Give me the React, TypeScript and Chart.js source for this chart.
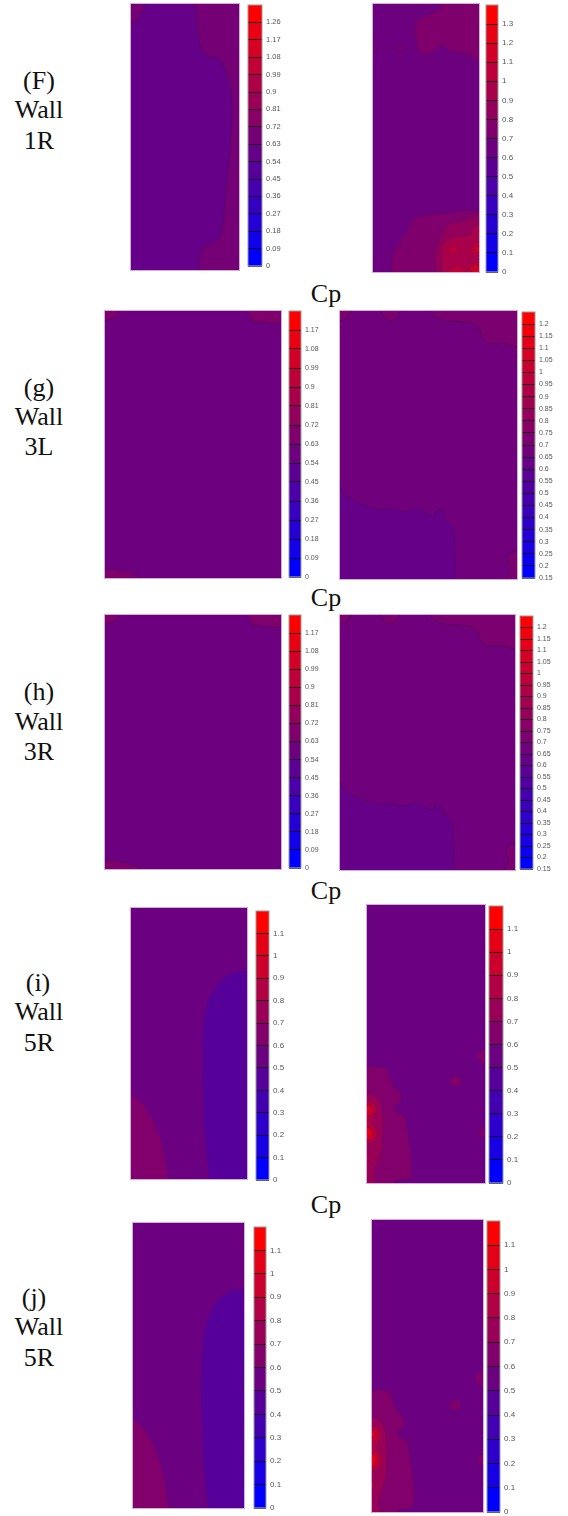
import React, { useEffect, useRef } from "react";
import { Chart, registerables } from "chart.js";

Chart.register(...registerables);

type Pt = [number, number];

// Colour-bar tick values
const TICKS_F_LEFT = [0, 0.09, 0.18, 0.27, 0.36, 0.45, 0.54, 0.63, 0.72, 0.81, 0.9, 0.99, 1.08, 1.17, 1.26];
const TICKS_F_RIGHT = [0, 0.1, 0.2, 0.3, 0.4, 0.5, 0.6, 0.7, 0.8, 0.9, 1, 1.1, 1.2, 1.3];
const TICKS_GH_LEFT = [0, 0.09, 0.18, 0.27, 0.36, 0.45, 0.54, 0.63, 0.72, 0.81, 0.9, 0.99, 1.08, 1.17];
const TICKS_GH_RIGHT = [0.15, 0.2, 0.25, 0.3, 0.35, 0.4, 0.45, 0.5, 0.55, 0.6, 0.65, 0.7, 0.75, 0.8, 0.85, 0.9, 0.95, 1, 1.05, 1.1, 1.15, 1.2];
const TICKS_IJ = [0, 0.1, 0.2, 0.3, 0.4, 0.5, 0.6, 0.7, 0.8, 0.9, 1, 1.1];

// Contour outlines, in percent of the wall width / height (y from the top)
const FULL: Pt[] = [[0, 0], [100, 0], [100, 100], [0, 100], [0, 0]];

const FL_CORNER: Pt[] = [[-3, 8], [0, 7.3], [5.5, 6.3], [10, 3.5], [13, 0], [14, -3], [-5, -5]];
const FL_RIGHT: Pt[] = [[59.4, -3], [59.6, 0], [61.7, 8.5], [64.2, 16], [70.4, 19.5], [81.2, 20.4], [87.3, 24.8], [92.6, 33.6], [93.5, 41.1], [91.4, 54.9], [87.3, 73.7], [83.3, 86.2], [76.5, 89.7], [67.3, 91.2], [63.6, 95], [63, 100], [63, 105], [110, 110], [110, -5]];

const FR_TOP: Pt[] = [[64, -2], [63.8, 1.6], [54.4, 3.7], [41.8, 6], [39.3, 9.1], [41.2, 14.7], [43.4, 17.8], [51.3, 19], [59.1, 17.2], [65.4, 15.1], [71.7, 17.2], [79.6, 18.1], [87.4, 18.4], [95.3, 20.3], [103, 21], [110, -5]];
const FR_BLOB_A: Pt[] = [[21.4, 16.6], [25.2, 15.6], [29, 16.6], [25.2, 17.6], [21.4, 16.6]];
const FR_BLOB_B: Pt[] = [[-3, 15.6], [1.5, 15.7], [4, 16.6], [1.5, 17.5], [-3, 17.6]];
const FR_LOW_7: Pt[] = [[17, 105], [17.3, 100], [19.2, 93.2], [24.5, 89.4], [30.8, 85.7], [38.7, 80.1], [51.3, 78.8], [63.8, 78.2], [76.4, 77.6], [87.4, 77], [103, 78.5], [110, 110]];
const FR_LOW_8: Pt[] = [[59, 105], [59.1, 100], [58.5, 94.3], [61.6, 89.2], [66.3, 85.4], [72.6, 81.7], [84.9, 81.2], [103, 79], [110, 110]];
const FR_LOW_9: Pt[] = [[65, 105], [64.8, 100], [64.8, 94.3], [66.3, 89.3], [75.8, 87], [91.5, 86.2], [94.6, 83.7], [103, 81.5], [110, 110]];
const FR_LOW_10: Pt[] = [[67, 103], [72, 99], [80, 97.8], [88, 99.5], [93, 98], [97, 96.7], [103, 96.5], [110, 110]];
const FR_EYE_A: Pt[] = [[70.5, 91.8], [75.8, 90.3], [81.1, 91.8], [75.8, 93.3], [70.5, 91.8]];
const FR_EYE_B: Pt[] = [[91.4, 91.5], [98.4, 89], [105, 91.5], [98.4, 94], [91.4, 91.5]];
const FR_EYE_C: Pt[] = [[95.4, 91.5], [98.4, 90.3], [102, 91.5], [98.4, 92.7], [95.4, 91.5]];
const FR_EYE_D: Pt[] = [[91.7, 98.6], [96.2, 97.1], [103, 98.6], [96.2, 102], [91.7, 98.6]];

const GL_TOP_LEFT: Pt[] = [[-2, 4], [0, 3.6], [4.7, 2.7], [7.6, 1.1], [7, -2], [-5, -5]];
const GL_TOP_RIGHT: Pt[] = [[79, -2], [79.7, 0], [82.5, 1.5], [82.9, 3.6], [86.3, 4.1], [103, 4.1], [110, -5]];
const GL_BOTTOM: Pt[] = [[-3, 96.5], [0, 96.5], [8.5, 97.1], [16.1, 98.6], [21, 100.2], [22, 105], [-5, 110]];

const GR_TOP_A: Pt[] = [[-3, 4], [0, 3.6], [3.8, 2.7], [6.2, 0], [7, -3], [-5, -5]];
const GR_TOP_B: Pt[] = [[22.5, -2], [23, 0], [24.5, 2.1], [28.3, 3.6], [32, 2.7], [34, 0], [34.5, -2]];
const GR_TOP_C: Pt[] = [[51.5, -2], [51.9, 0], [53.8, 2.1], [58.5, 3.4], [67.9, 4], [76.4, 4.9], [78.9, 7.1], [80.2, 10.2], [84.9, 12.1], [92.5, 12.1], [103, 12.9], [110, -5]];
const GR_LOW_LEFT: Pt[] = [[-3, 64], [0, 65.6], [2.8, 68.7], [9.4, 71.2], [20.8, 74.1], [28.3, 73.7], [36.8, 75], [43.4, 73.7], [50.9, 76.2], [53.8, 76.2], [54.3, 74.6], [57, 74.3], [58.9, 76.2], [57.5, 77.5], [61.3, 78.7], [64.2, 82.4], [64.7, 88], [65.1, 100], [65.2, 105], [-5, 110]];
const GR_LOW_RIGHT: Pt[] = [[103, 89], [100, 89.3], [96.2, 90.5], [94.7, 93.6], [96.6, 96.1], [94, 100], [93.5, 105], [110, 110]];

const IL_RIGHT: Pt[] = [[103, 23], [100, 23.1], [88, 24], [76.5, 27.1], [67.9, 33.2], [62.8, 41.8], [61.6, 54.1], [62.2, 68.9], [63.6, 83.6], [67.3, 100], [68, 105], [110, 110]];
const IL_LEFT: Pt[] = [[-3, 68], [0, 68.9], [10.6, 72.6], [19.2, 78.7], [26.4, 87.3], [32.1, 100], [33, 105], [-5, 110]];

const IR_6: Pt[] = [[-3, 58.2], [0, 58.2], [11.3, 58.2], [16.9, 59.4], [19.8, 62.9], [24, 65.9], [29.1, 68.3], [28.2, 70.8], [22.6, 73.1], [26.8, 74.7], [31.9, 76.1], [34.7, 82.1], [37.6, 91.7], [36.7, 98.3], [26.8, 98.9], [22.6, 100], [22, 105], [-5, 110]];
const IR_7: Pt[] = [[-3, 67.7], [0, 67.7], [5.7, 68.3], [11.3, 71.3], [13.3, 77.3], [12.7, 86.9], [8.5, 92.9], [5.7, 96.4], [7.6, 100], [8, 105], [-5, 110]];
const IR_8: Pt[] = [[-3, 70.5], [0, 70.5], [4.2, 70.8], [8.5, 73.1], [5.7, 76.1], [3.6, 77.3], [7, 80.3], [9.3, 82.1], [5.7, 85.1], [0, 86], [-3, 86]];
const IR_9_UP: Pt[] = [[-3, 71.5], [3, 72], [5, 73.8], [3, 75.5], [-3, 76]];
const IR_9_LOW: Pt[] = [[-3, 79.5], [3, 80.3], [6, 82.2], [3, 84.2], [-3, 84.8]];
const IR_10_UP: Pt[] = [[-3, 72], [1.5, 72.4], [2.5, 73.4], [1.5, 74.4], [-3, 74.8]];
const IR_10_LOW: Pt[] = [[-3, 80], [2, 80.4], [4, 82], [2, 83.6], [-3, 84]];
const IR_8_SMALL: Pt[] = [[-3, 89.6], [1, 89.7], [2.5, 90.8], [1, 92], [-3, 92.2]];
const IR_ISLE_A: Pt[] = [[69.3, 63.4], [74.7, 61.4], [80.1, 63.4], [74.7, 65.4], [69.3, 63.4]];
const IR_ISLE_B: Pt[] = [[103, 51.6], [99, 51.8], [92.6, 54.4], [99, 57], [103, 57.2]];
const IR_ISLE_C: Pt[] = [[103, 80.2], [98.5, 80.3], [94.5, 81.9], [98.5, 83.5], [103, 83.6]];

type Zone = { shape: Pt[]; band: number };
type Plot = { box: number[]; bands: number; base: number; zones: Zone[]; line: number };
type Bar = { box: number[]; ticks: number[]; top: number; font: number };

const zFL: Zone[] = [{ shape: FL_CORNER, band: 7 }, { shape: FL_RIGHT, band: 7 }];
const zFR: Zone[] = [
  { shape: FR_TOP, band: 7 }, { shape: FR_BLOB_A, band: 7 }, { shape: FR_BLOB_B, band: 7 },
  { shape: FR_LOW_7, band: 7 }, { shape: FR_LOW_8, band: 8 }, { shape: FR_LOW_9, band: 9 },
  { shape: FR_LOW_10, band: 10 }, { shape: FR_EYE_A, band: 10 }, { shape: FR_EYE_B, band: 10 },
  { shape: FR_EYE_C, band: 11 }, { shape: FR_EYE_D, band: 11 },
];
const zGL: Zone[] = [{ shape: GL_TOP_LEFT, band: 7 }, { shape: GL_TOP_RIGHT, band: 7 }, { shape: GL_BOTTOM, band: 7 }];
const zGR: Zone[] = [
  { shape: GR_TOP_A, band: 11 }, { shape: GR_TOP_B, band: 11 }, { shape: GR_TOP_C, band: 11 },
  { shape: GR_LOW_LEFT, band: 9 }, { shape: GR_LOW_RIGHT, band: 11 },
];
const zIL: Zone[] = [{ shape: IL_RIGHT, band: 4 }, { shape: IL_LEFT, band: 6 }];
const zIR: Zone[] = [
  { shape: IR_6, band: 6 }, { shape: IR_7, band: 7 }, { shape: IR_8, band: 8 },
  { shape: IR_9_UP, band: 9 }, { shape: IR_9_LOW, band: 9 }, { shape: IR_10_UP, band: 10 },
  { shape: IR_10_LOW, band: 10 }, { shape: IR_8_SMALL, band: 8 },
  { shape: IR_ISLE_A, band: 6 }, { shape: IR_ISLE_B, band: 6 }, { shape: IR_ISLE_C, band: 6 },
];

const PLOTS: Plot[] = [
  { box: [131, 4, 108, 266], bands: 15, base: 6, zones: zFL, line: 0.45 },
  { box: [373, 4, 106, 268], bands: 14, base: 6, zones: zFR, line: 0.28 },
  { box: [105, 311, 176, 267], bands: 14, base: 6, zones: zGL, line: 0.45 },
  { box: [340, 311, 177, 268], bands: 22, base: 10, zones: zGR, line: 0.45 },
  { box: [105, 615, 176, 254], bands: 14, base: 6, zones: zGL, line: 0.45 },
  { box: [340, 615, 175, 255], bands: 22, base: 10, zones: zGR, line: 0.45 },
  { box: [131, 908, 116, 271], bands: 12, base: 5, zones: zIL, line: 0.08 },
  { box: [367, 905, 118, 278], bands: 12, base: 5, zones: zIR, line: 0.22 },
  { box: [133, 1223, 111, 285], bands: 12, base: 5, zones: zIL, line: 0.08 },
  { box: [372, 1220, 111, 292], bands: 12, base: 5, zones: zIR, line: 0.22 },
];

const BARS: Bar[] = [
  { box: [248, 5, 14, 261], ticks: TICKS_F_LEFT, top: 1.35, font: 7.5 },
  { box: [486, 5, 12, 267], ticks: TICKS_F_RIGHT, top: 1.4, font: 8 },
  { box: [289, 311, 12, 266], ticks: TICKS_GH_LEFT, top: 1.26, font: 7 },
  { box: [522, 312, 13, 266], ticks: TICKS_GH_RIGHT, top: 1.25, font: 7 },
  { box: [289, 615, 12, 253], ticks: TICKS_GH_LEFT, top: 1.26, font: 7 },
  { box: [520, 616, 13, 253], ticks: TICKS_GH_RIGHT, top: 1.25, font: 7 },
  { box: [256, 911, 13, 269], ticks: TICKS_IJ, top: 1.2, font: 8 },
  { box: [489, 906, 14, 277], ticks: TICKS_IJ, top: 1.2, font: 8 },
  { box: [254, 1227, 12, 281], ticks: TICKS_IJ, top: 1.2, font: 8 },
  { box: [487, 1221, 13, 291], ticks: TICKS_IJ, top: 1.2, font: 8 },
];

const ROW_TITLES: { lines: string[]; xs: number[]; ys: number[] }[] = [
  { lines: ["(F)", "Wall", "1R"], xs: [39, 39, 39], ys: [81, 110, 141] },
  { lines: ["(g)", "Wall", "3L"], xs: [39, 39, 39], ys: [388, 417, 447] },
  { lines: ["(h)", "Wall", "3R"], xs: [39, 39, 39], ys: [692, 722, 752] },
  { lines: ["(i)", "Wall", "5R"], xs: [38, 39, 39], ys: [983, 1012, 1043] },
  { lines: ["(j)", "Wall", "5R"], xs: [34, 39, 39], ys: [1298, 1327, 1358] },
];
const CP_Y = [294, 598, 891, 1205];

function bandColor(i: number, n: number): string {
  const t = i / (n - 1);
  const shade = 1 - 0.08 * (1 - Math.abs(2 * t - 1));
  return `rgb(${Math.round(255 * t * shade)},0,${Math.round(255 * (1 - t) * shade)})`;
}

function toPoints(shape: Pt[]) {
  return shape.map(([x, y]) => ({ x, y }));
}

const wallFrame = {
  id: "wallFrame",
  afterDraw(chart: any) {
    const { ctx, chartArea: a } = chart;
    ctx.save();
    ctx.strokeStyle = "rgba(205,165,215,0.9)";
    ctx.lineWidth = 1;
    ctx.strokeRect(a.left - 0.5, a.top - 0.5, a.right - a.left + 1, a.bottom - a.top + 1);
    ctx.restore();
  },
};

function PlotChart({ plot }: { plot: Plot }) {
  const ref = useRef<HTMLCanvasElement>(null);
  useEffect(() => {
    const lineColor = `rgba(40,0,60,${plot.line})`;
    const zones = plot.zones.map((z) => ({
      type: "scatter" as const,
      data: toPoints(z.shape),
      showLine: true,
      fill: "shape",
      tension: 0.3,
      pointRadius: 0,
      backgroundColor: bandColor(z.band, plot.bands),
      borderColor: lineColor,
      borderWidth: 0.7,
    }));
    const base = {
      type: "scatter" as const,
      data: toPoints(FULL),
      showLine: true,
      fill: "shape",
      tension: 0,
      pointRadius: 0,
      backgroundColor: bandColor(plot.base, plot.bands),
      borderWidth: 0,
    };
    // Chart.js paints the first dataset last, so the outermost comes at the end
    const datasets = [...zones].reverse();
    datasets.push(base as any);
    const chart = new Chart(ref.current!, {
      type: "scatter",
      data: { datasets: datasets as any },
      options: {
        animation: false,
        responsive: false,
        events: [],
        layout: { padding: 1 },
        plugins: { legend: { display: false }, tooltip: { enabled: false } },
        scales: {
          x: { type: "linear", min: 0, max: 100, display: false },
          y: { type: "linear", min: 0, max: 100, reverse: true, display: false },
        },
      },
      plugins: [wallFrame],
    });
    return () => chart.destroy();
  }, [plot]);
  const [x, y, w, h] = plot.box;
  return <canvas ref={ref} width={w + 2} height={h + 2} style={{ position: "absolute", left: x - 1, top: y - 1, width: w + 2, height: h + 2 }} />;
}

const barFrame = {
  id: "barFrame",
  afterDraw(chart: any) {
    const { ctx, chartArea: a } = chart;
    ctx.save();
    ctx.strokeStyle = "#9a9a9a";
    ctx.lineWidth = 1;
    ctx.strokeRect(a.left, a.top, a.right - a.left, a.bottom - a.top);
    ctx.restore();
  },
};

function BarChart({ bar }: { bar: Bar }) {
  const ref = useRef<HTMLCanvasElement>(null);
  useEffect(() => {
    const edges = [...bar.ticks, bar.top];
    const n = bar.ticks.length;
    const datasets = bar.ticks.map((lo, i) => ({
      data: [[lo, edges[i + 1]]],
      backgroundColor: bandColor(i, n),
      grouped: false,
      barPercentage: 1,
      categoryPercentage: 1,
      borderWidth: 0,
    }));
    const chart = new Chart(ref.current!, {
      type: "bar",
      data: { labels: ["Cp"], datasets: datasets as any },
      options: {
        animation: false,
        responsive: false,
        events: [],
        layout: { padding: { top: 6, bottom: 6, left: 1, right: 0 } },
        plugins: { legend: { display: false }, tooltip: { enabled: false } },
        scales: {
          x: { display: false },
          y: {
            type: "linear",
            position: "right",
            min: bar.ticks[0],
            max: bar.top,
            afterBuildTicks: (s: any) => {
              s.ticks = bar.ticks.map((value) => ({ value }));
            },
            afterFit: (s: any) => {
              s.width = 28;
              s.paddingTop = 0;
              s.paddingBottom = 0;
            },
            border: { display: false },
            grid: { color: "rgba(20,0,20,0.85)", lineWidth: 1, z: 1, drawTicks: false, drawOnChartArea: true },
            ticks: {
              autoSkip: false,
              padding: 4,
              color: "#555",
              font: { family: '"Liberation Sans",Arial,sans-serif', size: bar.font },
              callback: (v: any) => String(Math.round(Number(v) * 100) / 100),
            },
          },
        },
      },
      plugins: [barFrame],
    });
    return () => chart.destroy();
  }, [bar]);
  const [x, y, w, h] = bar.box;
  const cw = w + 29;
  const ch = h + 12;
  return <canvas ref={ref} width={cw} height={ch} style={{ position: "absolute", left: x - 1, top: y - 6, width: cw, height: ch }} />;
}

const serif = '"Liberation Serif","Times New Roman",serif';

function Label({ text, x, y }: { text: string; x: number; y: number }) {
  return (
    <div style={{ position: "absolute", left: x - 40, top: y - 15, width: 80, height: 30, lineHeight: "30px", textAlign: "center", fontFamily: serif, fontSize: 26, color: "#111" }}>
      {text}
    </div>
  );
}

export default function App() {
  return (
    <div style={{ position: "absolute", left: 0, top: 0, width: 568, height: 1516, background: "#fff", overflow: "hidden", filter: "blur(0.45px)" }}>
      {ROW_TITLES.map((r, i) => r.lines.map((t, j) => <Label key={`${i}-${j}`} text={t} x={r.xs[j]} y={r.ys[j]} />))}
      {CP_Y.map((y) => <Label key={y} text="Cp" x={326} y={y} />)}
      {PLOTS.map((p, i) => <PlotChart key={i} plot={p} />)}
      {BARS.map((b, i) => <BarChart key={i} bar={b} />)}
    </div>
  );
}
